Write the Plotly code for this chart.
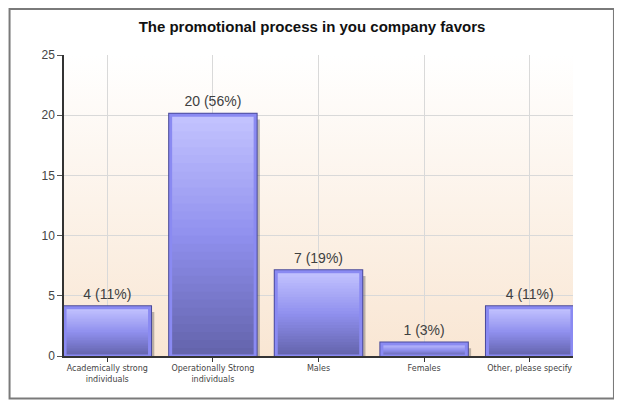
import base64
import plotly.graph_objects as go

categories = ["Academically strong<br>individuals", "Operationally Strong<br>individuals",
              "Males", "Females", "Other, please specify"]
counts = [4, 20, 7, 1, 4]
percents = [11, 56, 19, 3, 11]
y_ticks = [0, 5, 10, 15, 20, 25]

# page has an 8px body margin, so the figure is a bit smaller than the window
OFF = 8
W, H = 622 - OFF, 408 - OFF
ML, MR, MT, MB = 63.5 - OFF, 49, 55 - OFF, 51.5
pw, ph = W - ML - MR, H - MT - MB


def mix(c1, c2, t):
    a = [int(c1[i:i + 2], 16) for i in (1, 3, 5)]
    b = [int(c2[i:i + 2], 16) for i in (1, 3, 5)]
    return "#" + "".join(f"{round(x + (y - x) * t):02x}" for x, y in zip(a, b))


def grad(t):
    # t = 0 bottom, 1 top
    if t < 0.5:
        return mix("#6262aa", "#9090ee", t / 0.5)
    return mix("#9090ee", "#c4c4ff", (t - 0.5) / 0.5)


fig = go.Figure()

# soft drop shadow
fig.add_trace(go.Bar(x=categories, y=[v - 0.35 for v in counts], width=0.8, offset=-0.355,
                     marker=dict(color="rgba(70,70,70,0.35)", line=dict(width=0)),
                     hoverinfo="skip"))
# dark outer edge
fig.add_trace(go.Bar(x=categories, y=counts, width=0.8,
                     marker=dict(color="#5050a0", line=dict(color="#4a4a9a", width=5)),
                     hoverinfo="skip"))
# gradient fill, built from overlapping segments
N = 30
for i in range(N):
    fig.add_trace(go.Bar(x=categories, y=[v * (N - i) / N for v in counts],
                         base=[v * i / N for v in counts], width=0.8,
                         marker=dict(color=grad((i + 0.5) / N), line=dict(width=0)),
                         hoverinfo="skip"))
# light inner border
fig.add_trace(go.Bar(x=categories, y=counts, width=0.8,
                     marker=dict(color="rgba(0,0,0,0)", line=dict(color="#8a8af2", width=3)),
                     hoverinfo="skip"))
# value labels, lifted a little above the bars
fig.add_trace(go.Bar(x=categories, y=[v + 0.25 for v in counts], width=0.8,
                     marker=dict(color="rgba(0,0,0,0)", line=dict(width=0)),
                     text=[f"{v} ({p}%)" for v, p in zip(counts, percents)],
                     textposition="outside", cliponaxis=False,
                     textfont=dict(family="Liberation Sans, Arial", size=14, color="#404040"),
                     hoverinfo="skip"))

svg = ('<svg xmlns="http://www.w3.org/2000/svg" width="10" height="100" preserveAspectRatio="none">'
       '<defs><linearGradient id="g" x1="0" y1="0" x2="0" y2="1">'
       '<stop offset="0" stop-color="#ffffff"/><stop offset="1" stop-color="#f9e6d3"/>'
       '</linearGradient></defs><rect width="10" height="100" fill="url(#g)"/></svg>')
bg = "data:image/svg+xml;base64," + base64.b64encode(svg.encode()).decode()

fig.update_layout(
    width=W, height=H,
    margin=dict(l=ML, r=MR, t=MT, b=MB),
    paper_bgcolor="white", plot_bgcolor="white",
    barmode="overlay", showlegend=False,
    title=dict(text="<b>The promotional process in you company favors</b>",
               x=(312 - OFF) / W, xref="container", xanchor="center",
               y=1 - (27 - OFF) / H, yref="container", yanchor="middle",
               font=dict(family="Liberation Sans, Arial", size=15, color="#111111")),
    images=[dict(source=bg, xref="paper", yref="paper", x=0, y=1, sizex=1, sizey=1,
                 sizing="stretch", layer="below", xanchor="left", yanchor="top")],
    shapes=[dict(type="rect", xref="paper", yref="paper",
                 x0=(1 - ML) / pw, x1=(614 - OFF - ML) / pw,
                 y0=(MT + ph - (399 - OFF)) / ph, y1=(MT + ph - 1) / ph,
                 line=dict(color="#7a7a7a", width=2), fillcolor="rgba(0,0,0,0)")],
)

fig.update_xaxes(range=[-0.41, 4.41], showgrid=True, gridcolor="#d9d9d9", gridwidth=1,
                 showline=True, linecolor="#333333", linewidth=1.5,
                 ticks="outside", ticklen=4, tickcolor="#333333",
                 tickfont=dict(family="DejaVu Sans, Verdana", size=8, color="#444444"),
                 fixedrange=True)
fig.update_yaxes(range=[0, 25], tickvals=y_ticks, showgrid=True, gridcolor="#d9d9d9", gridwidth=1,
                 showline=True, linecolor="#333333", linewidth=1.5, zeroline=False,
                 ticks="outside", ticklen=5, tickcolor="#555555",
                 tickfont=dict(family="Liberation Sans, Arial", size=12, color="#444444"),
                 fixedrange=True)

fig.write_html("out.html")
